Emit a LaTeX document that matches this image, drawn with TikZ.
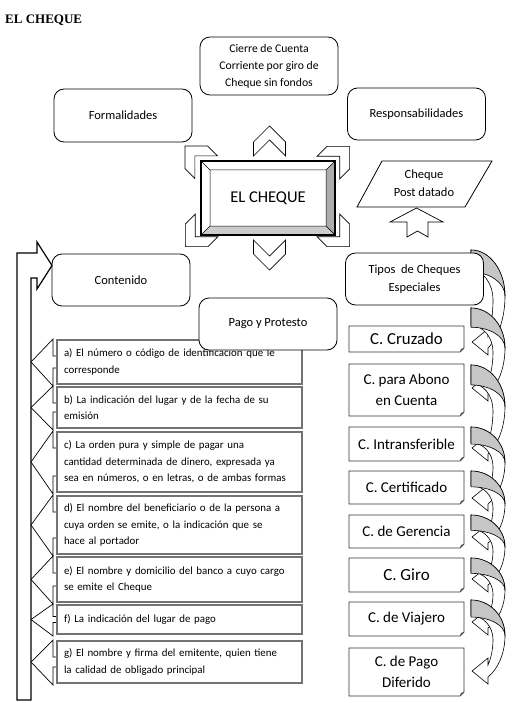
\documentclass[tikz,border=0pt]{standalone}
\usepackage{fontspec}
\setmainfont{Carlito}
\newfontfamily\titlefont{Liberation Serif}
\usetikzlibrary{calc, backgrounds}
\hyphenpenalty=10000
\exhyphenpenalty=10000

% curved arrow on the right: #1 top, #2 tip (pixels from the top)
\newcommand\curvarr[2]{%
  \pgfmathsetmacro\cvD{#2-#1}
  \pgfmathsetmacro\cvC{#1+0.5*\cvD}
  \pgfmathsetmacro\cvRo{(#2+6-\cvC)/0.866}
  \pgfmathsetmacro\cvI{\cvC+4}
  \pgfmathsetmacro\cvRa{\cvI-#1-0.22*\cvD}
  \pgfmathsetmacro\cvRb{(#2-6-\cvI)/0.634}
  \pgfmathsetmacro\cvRg{0.26*\cvD}
  \path[curvfront] (471,-#1) arc[start angle=90,end angle=0,x radius=34,y radius=0.5*\cvD]
    arc[start angle=0,end angle=-60,x radius=34,y radius=\cvRo]
    -- (488,-#2-13) -- (472,-#2) -- (488,-#2+13) -- (488,-#2+6)
    arc[start angle=-39.4,end angle=0,x radius=22,y radius=\cvRb]
    arc[start angle=0,end angle=90,x radius=22,y radius=\cvRa] -- cycle;
  \path[curvback] (471,-#1) arc[start angle=90,end angle=0,x radius=34,y radius=0.5*\cvD]
    arc[start angle=0,end angle=90,x radius=34,y radius=\cvRg] -- cycle;
}

\tikzset{
  roundbox/.style={draw, rounded corners=10pt, fill=white, line width=0.8pt,
    minimum width=138pt, minimum height=52pt, align=center,
    font=\fontsize{12.5}{18}\selectfont},
  listbox/.style={draw=black!55, line width=1.3pt, fill=white, outer sep=0pt,
    text width=231pt, inner xsep=7pt, align=left,
    font=\fontsize{10.9}{16.5}\selectfont},
  notebox/.style={fill=white, outer sep=0pt, minimum width=115pt, align=center,
    font=\fontsize{15}{21.5}\selectfont},
  chev/.style={draw, fill=white, line width=0.7pt},
  listarrow/.style={draw, fill=white, line width=0.7pt},
  curvfront/.style={draw, fill=white, line width=0.6pt},
  curvback/.style={draw, fill=gray!45, line width=0.6pt},
}

\begin{document}
\begin{tikzpicture}[x=1pt, y=1pt]
  \useasboundingbox (0,0) rectangle (513,-703);
  \begin{scope}[on background layer]
    \fill[white] (0,0) rectangle (513,-703);
  \end{scope}

  \node[anchor=base west, inner sep=0pt, font=\titlefont\bfseries\fontsize{13}{15}\selectfont]
    (title) at (5,-24) {EL CHEQUE};

  % chevrons round the centre
  \foreach \cx/\cy/\ang in {269.5/141/0, 269.5/255/180, 195.6/156.6/45,
      339/157/-45, 196/236/135, 339/236/-135}
    \draw[chev, shift={(\cx,-\cy)}, rotate=\ang]
      (0,15) -- (16,-1) -- (16,-15) -- (0,1) -- (-16,-15) -- (-16,-1) -- cycle;

  % centre box with bevel
  \node[draw, line width=1.6pt, fill=white, outer sep=0pt, minimum width=134pt,
    minimum height=74pt, font=\fontsize{16.5}{20}\selectfont] (cheque) at (268,-198) {EL CHEQUE};
  \coordinate (inw) at ($(cheque.north west)+(9,-9)$);
  \coordinate (ine) at ($(cheque.north east)+(-9,-9)$);
  \coordinate (isw) at ($(cheque.south west)+(9,9)$);
  \coordinate (ise) at ($(cheque.south east)+(-9,9)$);
  \filldraw[fill=gray!65, line width=0.5pt] (cheque.north east) -- (cheque.south east) -- (ise) -- (ine) -- cycle;
  \filldraw[fill=gray!40, line width=0.5pt] (cheque.south west) -- (cheque.south east) -- (ise) -- (isw) -- cycle;
  \draw[line width=0.5pt] (cheque.north west) -- (inw) -- (ine) (inw) -- (isw);
  \draw[line width=1.6pt] (cheque.north west) rectangle (cheque.south east);

  \node[roundbox, minimum height=58pt, font=\fontsize{11.7}{17}\selectfont] (cierre) at (269,-66)
    {Cierre de Cuenta\\Corriente por giro de\\Cheque sin fondos};
  \node[roundbox, minimum height=53pt] (formal) at (123,-115.5) {Formalidades};
  \node[roundbox] (resp) at (416.5,-114) {Responsabilidades};
  \node[roundbox] (conten) at (121,-280) {Contenido};

  % post datado
  \draw[line width=0.8pt, fill=white] (357,-207) -- (382,-161) -- (492,-161) -- (465,-207) -- cycle;
  \node[align=center, font=\fontsize{12.5}{18}\selectfont] (post) at (424,-183.5) {Cheque\\Post datado};
  \draw[chev] (416.5,-208) -- (443,-222) -- (428,-222) -- (428,-237) -- (417.5,-231)
    -- (407,-237) -- (407,-222) -- (390,-222) -- cycle;

  % curved arrows down the right side
  \foreach \t/\y in {250/342, 308/388, 365/448, 427/498, 471/537, 515/579, 558/622, 600/671}
    \curvarr{\t}{\y};

  \node[roundbox] (tipos) at (414.5,-279) {Tipos\ \ de Cheques\\Especiales};

  % bent arrow on the left
  \draw[line width=1.2pt, fill=white] (17,-700) -- (17,-253) -- (37,-253) -- (37,-242)
    -- (52,-265.5) -- (37,-289) -- (37,-278) -- (31,-278) -- (31,-700) -- cycle;

  % contents list
  \foreach \n/\y/\h/\txt in {
      la/362/44/{a) El número o código de identificación que le\\corresponde},
      lb/407.5/41/{b) La indicación del lugar y de la fecha de su\\emisión},
      lc/462/60/{c) La orden pura y simple de pagar una\\cantidad determinada de dinero, expresada ya\\sea en números, o en letras, o de ambas formas},
      ld/525/58/{d) El nombre del beneficiario o de la persona a\\cuya orden se emite, o la indicación que se\\hace al portador},
      le/579.5/45/{e) El nombre y domicilio del banco a cuyo cargo\\se emite el Cheque},
      lf/619.5/29/{f) La indicación del lugar de pago},
      lg/662/42/{g) El nombre y firma del emitente, quien tiene\\la calidad de obligado principal}}
    \node[listbox, minimum height=\h pt] (\n) at (179.5,-\y) {\txt};

  \begin{scope}[on background layer]
    \foreach \n/\s in {la/6, lb/4.5, lc/14, ld/13, le/6.5, lf/3, lg/5}
      \draw[listarrow] ($(\n.north west)+(-4,1)$) -- ($(\n.west)+(-26,0)$)
        -- ($(\n.south west)+(-4,-2)$) -- ($(\n.west)+(-4,-\s)$) -- ($(\n.west)+(10,-\s)$)
        -- ($(\n.west)+(10,\s)$) -- ($(\n.west)+(-4,\s)$) -- cycle;
  \end{scope}

  \node[roundbox] (pago) at (268,-324) {Pago y Protesto};

  % special cheques
  \node[notebox, minimum height=26pt, font=\fontsize{16.8}{20}\selectfont] (cruz) at (406.5,-339) {C. Cruzado};
  \node[notebox, minimum height=52pt] (abono) at (406.5,-390) {C. para Abono\\en Cuenta};
  \node[notebox, minimum height=34pt] (intr) at (406.5,-444) {C. Intransferible};
  \node[notebox, minimum height=33pt] (cert) at (406.5,-487.5) {C. Certificado};
  \node[notebox, minimum height=33pt] (ger) at (406.5,-531.5) {C. de Gerencia};
  \node[notebox, minimum height=34pt, font=\fontsize{17}{20}\selectfont] (giro) at (406.5,-575) {C. Giro};
  \node[notebox, minimum height=34pt] (viaj) at (406.5,-619) {C. de Viajero};
  \begin{scope}
    \clip (340,-640) rectangle (470,-686);
    \node[notebox, minimum height=48pt] (dif) at (406.5,-672) {C. de Pago\\Diferido};
  \end{scope}
  \foreach \n in {cruz, abono, intr, cert, ger, giro, viaj, dif} {
    \draw[black!80, line width=0.8pt] (\n.north west) -- (\n.north east) -- ($(\n.south east)+(0,4)$)
      -- ($(\n.south east)+(-4,0)$) -- (\n.south west) -- cycle;
    \fill[black!70] ($(\n.south east)+(0,4)$) -- ($(\n.south east)+(-4,0)$) -- ($(\n.south east)+(-3,3)$) -- cycle;
  }
\end{tikzpicture}
\end{document}
